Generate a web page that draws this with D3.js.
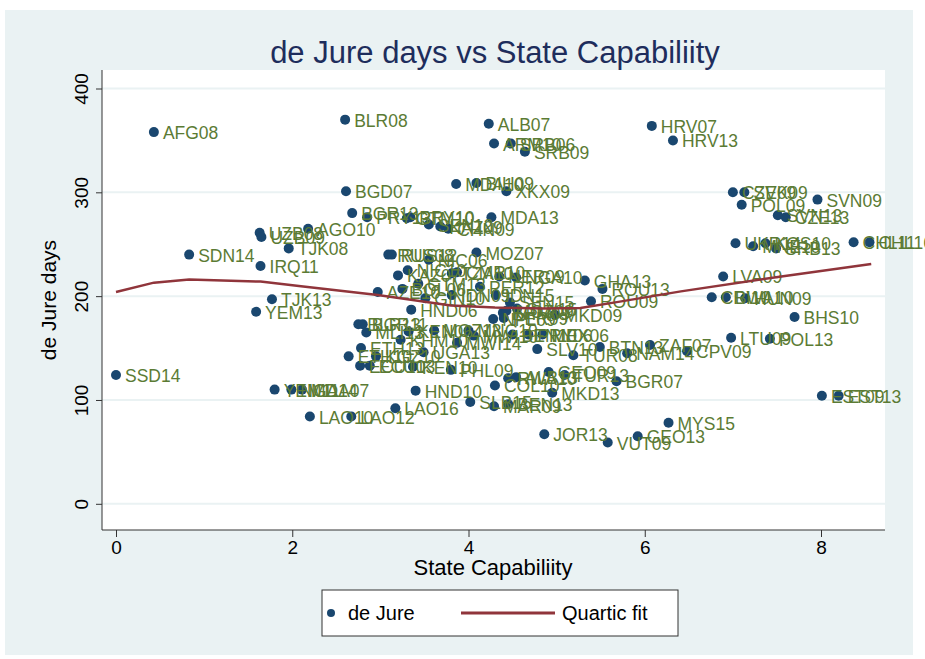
<!DOCTYPE html>
<html>
<head>
<meta charset="utf-8">
<script src="https://cdn.jsdelivr.net/npm/d3@7"></script>
<style>
  body { margin: 0; background: #fff; }
  text { font-family: Arial, "Liberation Sans", sans-serif; }
</style>
</head>
<body>
<div id="chart"></div>
<script>
/* -------------------------------------------------------------------------- */
// data: one entry per country-year
let labels = [
  'AFG08','BLR08','ALB07','ARM10','SRB06','SRB09','HRV07','HRV13',
  'MDA10','BIH09','XKX09','BGD07','BGR13','PRY13','GTM10','PRY10',
  'SEN12','KAZ09','CHN09','MDA13','UZB08','UZB09','AGO10','TJK08',
  'SDN14','IRQ11','SSD14','TJK13','YEM13','CZE09','SVK09','POL09',
  'SVN09','SVN13','CZE13','UKR14','MNE10','KOS10','SRB13','CHL11',
  'CHL16','LVA09','GHA13','ROU13','ROU09','CRI10','BWA10','HUN09',
  'BHS10','LTU09','POL13','BTN13','ZAF07','NAM14','CPV09','TUR08',
  'BGR07','EST09','EST13','MYS15','GEO13','VUT09','JOR13','MKD13',
  'COL10','RWA10','ALB13','GEO09','TUR13','SLB15','MAR09','BEN13',
  'LAO16','HND10','LAO10','LAO12','YEM11','NGA14','MDA07','ETH13',
  'ETH10','KGZ10','UGA13','ECU10','ECU13','KEN10','PHL09','MWI14',
  'SLV10','BLR13','BGR11','MLI13','KEN06','MOZ13','KHM10','MNG10',
  'MWI10','BEN10','PRY06','MEX06','RUS08','RUS12','NIC06','MOZ07',
  'KAZ07','NIC10','TZA10','CMR10','NER09','NGA10','GTM13','AZE10',
  'BOL06','PER12','GIN10','IDN09','IDN15','SEN15','KHM09','MOZ09',
  'SLV15','NPL09','PER09','MKD09','HND06'
];
let capability = [
  0.43, 2.60, 4.23, 4.29, 4.48, 4.64, 6.08, 6.32,
  3.86, 4.09, 4.43, 2.61, 2.68, 2.85, 3.30, 3.34,
  3.55, 3.68, 3.77, 4.26, 1.63, 1.65, 2.18, 1.96,
  0.83, 1.64, 0.00, 1.77, 1.59, 7.00, 7.13, 7.10,
  7.96, 7.51, 7.60, 7.03, 7.23, 7.37, 7.49, 8.37,
  8.55, 6.89, 5.32, 5.52, 5.39, 6.76, 6.92, 7.14,
  7.70, 6.98, 7.42, 5.49, 6.06, 5.80, 6.48, 5.19,
  5.68, 8.01, 8.20, 6.27, 5.92, 5.58, 4.86, 4.95,
  4.30, 4.45, 4.54, 4.91, 5.09, 4.02, 4.29, 4.45,
  3.17, 3.40, 2.20, 2.67, 1.80, 1.99, 2.11, 2.78,
  2.64, 2.95, 3.49, 2.77, 2.88, 3.37, 3.80, 3.87,
  4.78, 2.75, 2.80, 2.84, 3.32, 3.61, 3.23, 4.00,
  4.06, 4.50, 4.68, 4.84, 3.09, 3.13, 3.55, 4.09,
  3.20, 3.31, 3.81, 3.87, 4.35, 4.54, 3.43, 2.97,
  3.25, 4.13, 3.51, 3.81, 4.31, 4.47, 4.39, 4.43,
  4.55, 4.28, 4.40, 4.98, 3.35
];
let dejure = [
  358, 370, 366, 347, 347, 339, 364, 350,
  308, 309, 301, 301, 280, 276, 275, 276,
  269, 267, 265, 276, 261, 257, 265, 246,
  240, 229, 124, 197, 185, 300, 300, 288,
  293, 278, 276, 251, 248, 251, 246, 252,
  252, 219, 215, 207, 195, 199, 199, 198,
  180, 160, 159, 151, 153, 145, 147, 143,
  118, 104, 104,  78,  65,  59,  67, 107,
  114, 121, 122, 127, 124,  98,  94,  96,
   92, 109,  84,  84, 110, 110, 110, 150,
  142, 142, 146, 133, 133, 132, 129, 155,
  149, 173, 173, 165, 166, 167, 158, 167,
  162, 163, 163, 163, 240, 240, 235, 242,
  220, 225, 222, 223, 219, 218, 212, 204,
  207, 209, 198, 201, 201, 194, 184, 186,
  188, 178, 179, 182, 187
];

// quartic fit, read as a polyline
let fitX = [0, 0.43, 0.83, 1.64, 2.1, 2.97, 3.8, 4.3, 4.85, 5.27, 5.7, 6.41, 7.55, 8.57];
let fitY = [204, 213, 216, 214, 209.5, 201, 191, 189, 188, 188.6, 194.5, 204.6, 219, 231];

let xTicks = [0, 2, 4, 6, 8];
let yTicks = [0, 100, 200, 300, 400];

/* -------------------------------------------------------------------------- */
let width = 925, height = 659;
let plot = {left: 102, top: 70, right: 885, bottom: 530};

let bgColor = '#eaf2f3',
    dotColor = '#1a476f',
    labelColor = '#5b7b34',
    fitColor = '#90353b',
    titleColor = '#1e2d5c';

let svg = d3.select('#chart').append('svg')
  .attr('width', width).attr('height', height);

svg.append('rect').attr('x', 0).attr('y', 0)
   .attr('width', width).attr('height', height).attr('fill', '#fff');
svg.append('rect').attr('x', 5).attr('y', 10)
   .attr('width', 908).attr('height', 645).attr('fill', bgColor);
svg.append('rect').attr('x', plot.left).attr('y', plot.top)
   .attr('width', plot.right - plot.left).attr('height', plot.bottom - plot.top)
   .attr('fill', '#fff');

let x = d3.scaleLinear().domain([0, 8]).range([116, 821]);
let y = d3.scaleLinear().domain([0, 400]).range([503.8, 88.5]);

// grid
svg.append('g').selectAll('line').data(yTicks).join('line')
  .attr('x1', plot.left).attr('x2', plot.right)
  .attr('y1', d => y(d)).attr('y2', d => y(d))
  .attr('stroke', bgColor).attr('stroke-width', 2);

// axes
let yAxis = d3.axisLeft(y).tickValues(yTicks).tickSize(6).tickPadding(0).tickFormat(d3.format('d'));
let gy = svg.append('g').attr('transform', `translate(${plot.left},0)`).call(yAxis);
gy.select('.domain').remove();
gy.selectAll('.tick line').attr('stroke', '#333');
gy.selectAll('.tick text')
  .attr('transform', 'translate(-14,0) rotate(-90)')
  .attr('x', 0).attr('dy', 0).attr('y', 0)
  .attr('text-anchor', 'middle')
  .attr('font-size', 19).attr('fill', '#000');

let xAxis = d3.axisBottom(x).tickValues(xTicks).tickSize(7).tickPadding(4).tickFormat(d3.format('d'));
let gx = svg.append('g').attr('transform', `translate(0,${plot.bottom})`).call(xAxis);
gx.select('.domain').remove();
gx.selectAll('.tick line').attr('stroke', '#333');
gx.selectAll('.tick text').attr('font-size', 19).attr('fill', '#000');

svg.append('line').attr('x1', plot.left).attr('x2', plot.left)
   .attr('y1', plot.top).attr('y2', plot.bottom).attr('stroke', '#333');
svg.append('line').attr('x1', plot.left).attr('x2', plot.right)
   .attr('y1', plot.bottom).attr('y2', plot.bottom).attr('stroke', '#333');

/* -------------------------------------------------------------------------- */
// points and labels
let pts = labels.map((l, i) => ({label: l, x: capability[i], y: dejure[i]}));

svg.append('g').selectAll('circle').data(pts).join('circle')
  .attr('cx', d => x(d.x)).attr('cy', d => y(d.y)).attr('r', 5)
  .attr('fill', dotColor);

svg.append('g').selectAll('text').data(pts).join('text')
  .attr('x', d => x(d.x) + 9).attr('y', d => y(d.y) + 7)
  .attr('font-size', 17.5).attr('fill', labelColor)
  .text(d => d.label);

// fit line
let fit = fitX.map((v, i) => [v, fitY[i]]);
svg.append('path').datum(fit)
  .attr('d', d3.line().x(d => x(d[0])).y(d => y(d[1])))
  .attr('fill', 'none').attr('stroke', fitColor).attr('stroke-width', 2.5);

/* -------------------------------------------------------------------------- */
// titles
svg.append('text').attr('x', 495).attr('y', 63).attr('text-anchor', 'middle')
   .attr('font-size', 31).attr('fill', titleColor)
   .text('de Jure days vs State Capabiliity');
svg.append('text').attr('x', 493).attr('y', 575).attr('text-anchor', 'middle')
   .attr('font-size', 22).attr('fill', '#000').text('State Capabiliity');
svg.append('text').attr('transform', 'translate(56,300) rotate(-90)')
   .attr('text-anchor', 'middle').attr('font-size', 21).attr('fill', '#000')
   .text('de Jure days');

// legend
let lg = svg.append('g').attr('transform', 'translate(322,590)');
lg.append('rect').attr('width', 356).attr('height', 46)
  .attr('fill', '#fff').attr('stroke', '#333');
lg.append('circle').attr('cx', 9).attr('cy', 23).attr('r', 4).attr('fill', dotColor);
lg.append('text').attr('x', 26).attr('y', 30).attr('font-size', 20).text('de Jure');
lg.append('line').attr('x1', 139).attr('x2', 233).attr('y1', 23).attr('y2', 23)
  .attr('stroke', fitColor).attr('stroke-width', 3);
lg.append('text').attr('x', 240).attr('y', 30).attr('font-size', 20).text('Quartic fit');
</script>
</body>
</html>
